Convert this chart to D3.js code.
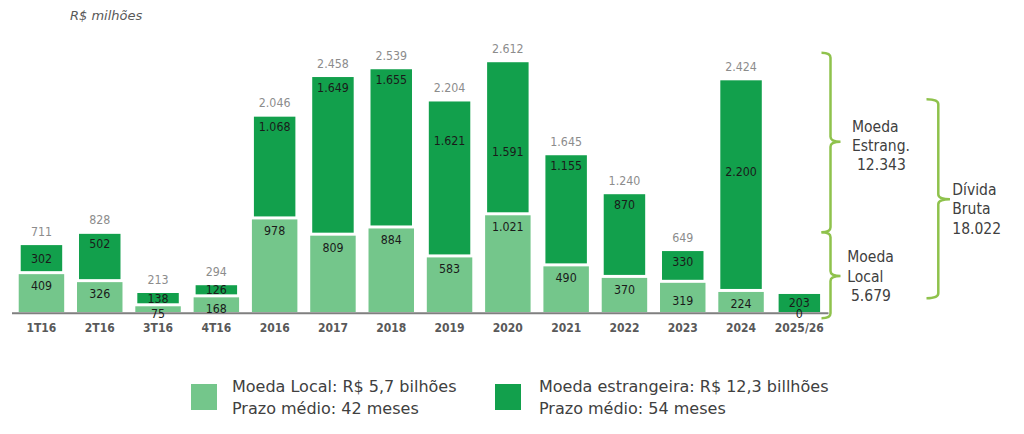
<!DOCTYPE html>
<html>
<head>
<meta charset="utf-8">
<script src="https://cdn.jsdelivr.net/npm/d3@7"></script>
<style>
  html, body { margin: 0; padding: 0; background: #ffffff; }
  svg { display: block; }
</style>
</head>
<body>
<svg id="chart" width="1024" height="434"></svg>
<script>
// ---- data ----
const categories = ["1T16", "2T16", "3T16", "4T16", "2016", "2017", "2018", "2019", "2020", "2021", "2022", "2023", "2024", "2025/26"];
const moedaLocal = [409, 326, 75, 168, 978, 809, 884, 583, 1021, 490, 370, 319, 224, 0];
const moedaEstrangeira = [302, 502, 138, 126, 1068, 1649, 1655, 1621, 1591, 1155, 870, 330, 2200, 203];
const totals = [711, 828, 213, 294, 2046, 2458, 2539, 2204, 2612, 1645, 1240, 649, 2424, null];
const unitLabel = "R$ milhões";
const legendLocal = ["Moeda Local: R$ 5,7 bilhões", "Prazo médio: 42 meses"];
const legendEstrangeira = ["Moeda estrangeira: R$ 12,3 billhões", "Prazo médio: 54 meses"];
const braceEstrang = ["Moeda", "Estrang.", "12.343"];
const braceLocal = ["Moeda", "Local", "5.679"];
const braceTotal = ["Dívida", "Bruta", "18.022"];

// ---- styles ----
const LIGHT = "#74c68b";
const DARK = "#12a04c";
const BRACE = "#8fc24c";
const FONT = "'DejaVu Sans Condensed', 'DejaVu Sans', sans-serif";

const locale = d3.formatLocale({ decimal: ",", thousands: ".", grouping: [3], currency: ["R$", ""] });
const fmt = locale.format(",d");

const svg = d3.select("#chart");

const x = d3.scaleBand().domain(categories).range([12.3, 828.5]).paddingInner(0.22).paddingOuter(0.11);
const y = d3.scaleLinear().domain([0, 2700]).range([312, 312 - 2700 * 0.0962]);

const rows = categories.map((c, i) => ({ c, local: moedaLocal[i], est: moedaEstrangeira[i], total: totals[i], i }));

const inset = 1.5;
const darkShrink = 2;

// light bars
svg.append("g").selectAll("rect").data(rows).join("rect")
  .attr("x", d => x(d.c))
  .attr("width", x.bandwidth())
  .attr("y", d => y(d.local) + inset)
  .attr("height", d => Math.max(0, y(0) - y(d.local) - inset))
  .attr("fill", LIGHT);

// dark bars
svg.append("g").selectAll("rect").data(rows).join("rect")
  .attr("x", d => x(d.c) + darkShrink)
  .attr("width", x.bandwidth() - 2 * darkShrink)
  .attr("y", d => y(d.local + d.est) + inset)
  .attr("height", d => Math.max(0, y(d.local) - y(d.local + d.est) - (d.local > 0 ? 2 * inset : inset)))
  .attr("fill", DARK);

// axis line
svg.append("line")
  .attr("x1", 12).attr("x2", 828.5)
  .attr("y1", y(0) + 1.3).attr("y2", y(0) + 1.3)
  .attr("stroke", "#7f7f7f").attr("stroke-width", 2);

// category labels
svg.append("g").selectAll("text").data(rows).join("text")
  .attr("x", d => x(d.c) + x.bandwidth() / 2)
  .attr("y", 327.5)
  .attr("text-anchor", "middle")
  .attr("dominant-baseline", "central")
  .attr("font-family", FONT)
  .attr("font-weight", "bold")
  .attr("font-size", 12)
  .attr("fill", "#595959")
  .text(d => d.c);

// light value labels
const lightOverride = { "2023": 20 };
svg.append("g").selectAll("text").data(rows).join("text")
  .attr("x", d => x(d.c) + x.bandwidth() / 2)
  .attr("y", d => {
    const off = lightOverride[d.c] !== undefined ? lightOverride[d.c] : 13.5;
    return Math.min(y(d.local) + off, 313.5);
  })
  .attr("text-anchor", "middle")
  .attr("dominant-baseline", "central")
  .attr("font-family", FONT)
  .attr("font-size", 12.3)
  .attr("fill", "#1a1a1a")
  .text(d => fmt(d.local));

// dark value labels
const darkOverride = { "2019": 41, "2020": 91, "2024": 93 };
svg.append("g").selectAll("text").data(rows).join("text")
  .attr("x", d => x(d.c) + x.bandwidth() / 2)
  .attr("y", d => {
    const top = y(d.local + d.est), bot = y(d.local);
    if (darkOverride[d.c] !== undefined) return top + darkOverride[d.c];
    if (bot - top < 30) return (top + bot) / 2 + 0.5;
    return top + 12;
  })
  .attr("text-anchor", "middle")
  .attr("dominant-baseline", "central")
  .attr("font-family", FONT)
  .attr("font-size", 12.3)
  .attr("fill", "#1a1a1a")
  .text(d => fmt(d.est));

// total labels
svg.append("g").selectAll("text").data(rows.filter(d => d.total !== null)).join("text")
  .attr("x", d => x(d.c) + x.bandwidth() / 2)
  .attr("y", d => y(d.total) - 12)
  .attr("text-anchor", "middle")
  .attr("dominant-baseline", "central")
  .attr("font-family", FONT)
  .attr("font-size", 12.3)
  .attr("fill", "#8c8c8c")
  .text(d => fmt(d.total));

// unit label
svg.append("text")
  .attr("x", 70).attr("y", 15)
  .attr("dominant-baseline", "central")
  .attr("font-family", "'DejaVu Sans', sans-serif")
  .attr("font-style", "italic")
  .attr("font-size", 13)
  .attr("fill", "#595959")
  .text(unitLabel);

// braces
function brace(x0, xv, xt, yTop, yBot, yMid, r) {
  return `M${x0},${yTop} Q${xv},${yTop} ${xv},${yTop + r} L${xv},${yMid - r} Q${xv},${yMid} ${xt},${yMid} ` +
         `Q${xv},${yMid} ${xv},${yMid + r} L${xv},${yBot - r} Q${xv},${yBot} ${x0},${yBot}`;
}
const braceG = svg.append("g").attr("fill", "none").attr("stroke", BRACE).attr("stroke-width", 2.5);
braceG.append("path").attr("d", brace(821.5, 830.5, 840.5, 52.7, 232.3, 141.7, 5));
braceG.append("path").attr("d", brace(821.5, 830.5, 840.5, 232.3, 318.3, 276, 5));
braceG.append("path").attr("d", brace(926.5, 938.3, 950, 99.3, 298.3, 199.3, 5));

function textBlock(lines, xs, ys, size) {
  svg.append("g").selectAll("text").data(lines).join("text")
    .attr("x", (d, i) => xs[i])
    .attr("y", (d, i) => ys[i])
    .attr("dominant-baseline", "central")
    .attr("font-family", FONT)
    .attr("font-size", size)
    .attr("fill", "#404040")
    .text(d => d);
}
textBlock(braceEstrang, [852, 852, 857], [126.7, 146, 165.3], 15.5);
textBlock(braceLocal, [847.3, 847.3, 851], [257.3, 276.7, 296], 15.5);
textBlock(braceTotal, [952.3, 952.3, 952.3], [190, 209.3, 228.7], 15.5);

// legend
svg.append("rect").attr("x", 191).attr("y", 384).attr("width", 26).attr("height", 26).attr("fill", LIGHT);
svg.append("rect").attr("x", 495).attr("y", 384).attr("width", 26).attr("height", 26).attr("fill", DARK);
function legendText(lines, x0) {
  svg.append("g").selectAll("text").data(lines).join("text")
    .attr("x", x0)
    .attr("y", (d, i) => 386 + i * 22)
    .attr("dominant-baseline", "central")
    .attr("font-family", "'DejaVu Sans', sans-serif")
    .attr("font-size", 16)
    .attr("fill", "#404040")
    .text(d => d);
}
legendText(legendLocal, 232);
legendText(legendEstrangeira, 539);
</script>
</body>
</html>
